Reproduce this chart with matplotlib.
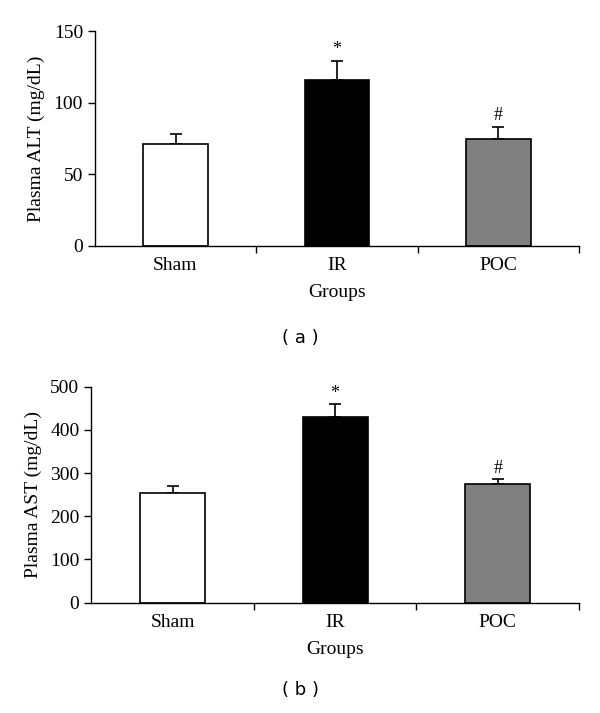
import matplotlib
matplotlib.use("Agg")
import matplotlib.pyplot as plt

plt.rcParams["font.family"] = ["Liberation Serif", "DejaVu Serif"]

groups = ["Sham", "IR", "POC"]
alt_mean = [71.5, 115.5, 74.5]
alt_err = [6.5, 13.5, 8.5]
ast_mean = [253, 430, 275]
ast_err = [18, 29, 11]
marks = ["", "*", "#"]
colors = ["white", "black", "#808080"]

fig = plt.figure(figsize=(6, 7.13), dpi=100)
ax_a = fig.add_axes([0.158, 0.655, 0.807, 0.3015])
ax_b = fig.add_axes([0.152, 0.1547, 0.813, 0.303])


def draw(ax, mean, err, ylabel, ymax, step, mark_off):
    x = range(len(groups))
    ax.bar(x, mean, width=0.4, color=colors, edgecolor="black", linewidth=1.2, zorder=2)
    ax.errorbar(x, mean, yerr=[[0] * len(err), err], fmt="none", ecolor="black",
                elinewidth=1.2, capsize=4, capthick=1.2, zorder=1)
    for xi, m, e, s in zip(x, mean, err, marks):
        if s:
            ax.text(xi, m + e + mark_off, s, ha="center", va="bottom", fontsize=13)
    ax.set_xlim(-0.5, 2.5)
    ax.set_ylim(0, ymax)
    ax.set_yticks(range(0, ymax + 1, step))
    ax.set_xticks(list(x))
    ax.set_xticklabels(groups)
    ax.set_xticks([0.5, 1.5, 2.5], minor=True)
    ax.tick_params(axis="x", which="major", length=0, pad=8, labelsize=14)
    ax.tick_params(axis="x", which="minor", length=5, width=1)
    ax.tick_params(axis="y", length=5, width=1, labelsize=14)
    for sp in ["top", "right"]:
        ax.spines[sp].set_visible(False)
    for sp in ["left", "bottom"]:
        ax.spines[sp].set_linewidth(1)
    ax.set_ylabel(ylabel, fontsize=14, labelpad=6)
    ax.set_xlabel("Groups", fontsize=14, labelpad=7)


draw(ax_a, alt_mean, alt_err, "Plasma ALT (mg/dL)", 150, 50, 2)
draw(ax_b, ast_mean, ast_err, "Plasma AST (mg/dL)", 500, 100, 6)

fig.text(0.5, 1 - 338 / 713, "( a )", ha="center", va="center", fontsize=13, family="DejaVu Sans")
fig.text(0.5, 1 - 690 / 713, "( b )", ha="center", va="center", fontsize=13, family="DejaVu Sans")

fig.savefig("out.png", dpi=100)
